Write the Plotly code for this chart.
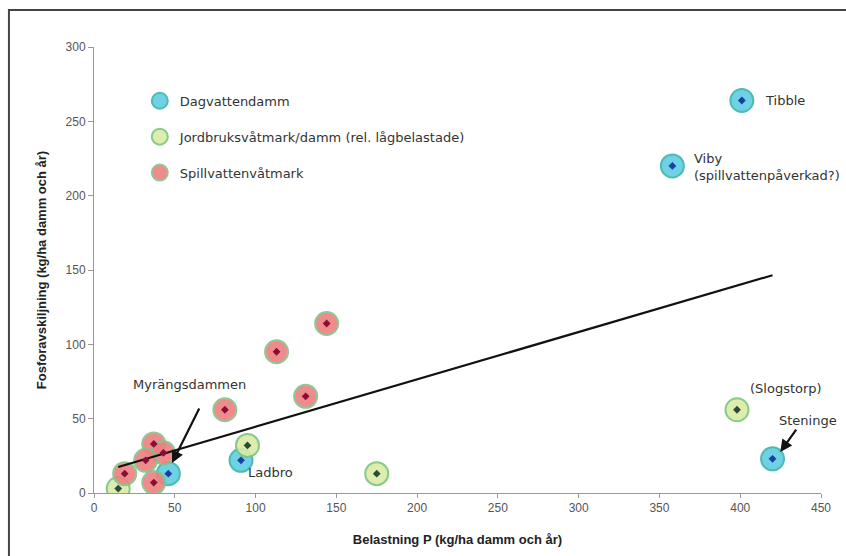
import plotly.graph_objects as go

# ---- data ----
dag_x = [401, 358, 420, 91, 46]
dag_y = [264, 220, 23, 22, 13]

jord_x = [398, 175, 95, 15]
jord_y = [56, 13, 32, 3]

spill_x = [144, 113, 131, 81, 37, 43, 32, 19, 37]
spill_y = [114, 95, 65, 56, 33, 27, 22, 13, 7]

trend_x = [15, 420]
trend_y = [17.5, 146.5]

series_names = ["Dagvattendamm", "Jordbruksvåtmark/damm (rel. lågbelastade)", "Spillvattenvåtmark"]

x_ticks = [0, 50, 100, 150, 200, 250, 300, 350, 400, 450]
y_ticks = [0, 50, 100, 150, 200, 250, 300]

fig = go.Figure()

styles = [
    (dag_x, dag_y, "#5fcde4", "#3cb5a8", "#1b3f9c"),
    (jord_x, jord_y, "#d9eca6", "#7cc67c", "#2e4a36"),
    (spill_x, spill_y, "#ef7f80", "#86c08c", "#8a0d35"),
]
for name, (xs, ys, fill, border, dot) in zip(series_names, styles):
    fig.add_trace(go.Scatter(
        x=xs, y=ys, mode="markers", name=name, legendgroup=name,
        marker=dict(size=23, color=fill, line=dict(color=border, width=2), opacity=0.9),
    ))

# trend line
fig.add_trace(go.Scatter(x=trend_x, y=trend_y, mode="lines", showlegend=False,
                         line=dict(color="#111111", width=2.2)))

for name, (xs, ys, fill, border, dot) in zip(series_names, styles):
    fig.add_trace(go.Scatter(
        x=xs, y=ys, mode="markers", showlegend=False, legendgroup=name,
        marker=dict(size=6, symbol="diamond", color=dot),
    ))

afont = dict(family="DejaVu Sans", size=13, color="#333333")
labels = [
    ("Tibble", 414, 264, "left"),
    ("Viby<br>(spillvattenpåverkad?)", 370, 219, "left"),
    ("(Slogstorp)", 405, 70, "left"),
    ("Steninge", 442, 49, "center"),
    ("Ladbro", 109, 14, "center"),
    ("Myrängsdammen", 59, 73, "center"),
]
for txt, x, y, al in labels:
    fig.add_annotation(x=x, y=y, text=txt, showarrow=False, font=afont,
                       xanchor=al, align="left", yanchor="middle")

arrows = [
    (48.3, 20.2, 65.6, 57.8),
    (424.8, 27.6, 435.3, 43.7),
]
for hx, hy, tx, ty in arrows:
    fig.add_annotation(x=hx, y=hy, ax=tx, ay=ty, xref="x", yref="y", axref="x", ayref="y",
                       text="", showarrow=True, arrowhead=2, arrowsize=1.1, arrowwidth=2.2,
                       arrowcolor="#111111")

# outer frame
fig.add_shape(type="rect", xref="paper", yref="paper",
              x0=-0.117, y0=-0.3, x1=1.2, y1=1.083,
              line=dict(color="#444444", width=2))

fig.update_layout(
    width=846, height=556,
    margin=dict(l=94, r=25, t=47, b=63),
    paper_bgcolor="white", plot_bgcolor="white",
    showlegend=True,
    legend=dict(x=0.063, y=0.913, xanchor="left", yanchor="top",
                font=dict(family="DejaVu Sans", size=13, color="#333333"),
                bgcolor="rgba(0,0,0,0)", tracegroupgap=16, itemsizing="trace"),
    xaxis=dict(range=[0, 450], tickvals=x_ticks, showgrid=False, zeroline=False,
               showline=True, linecolor="#999999", linewidth=1,
               ticks="outside", ticklen=4, tickcolor="#999999",
               tickfont=dict(family="Liberation Sans", size=12, color="#555555"),
               title=dict(text="<b>Belastning P (kg/ha damm och år)</b>",
                          font=dict(family="Liberation Sans", size=13, color="#222222"),
                          standoff=20)),
    yaxis=dict(range=[0, 300], tickvals=y_ticks, showgrid=False, zeroline=False,
               showline=True, linecolor="#999999", linewidth=1,
               ticks="outside", ticklen=5, tickcolor="#999999",
               tickfont=dict(family="Liberation Sans", size=12, color="#555555"),
               title=dict(text="<b>Fosforavskiljning (kg/ha damm och år)</b>",
                          font=dict(family="Liberation Sans", size=13, color="#222222"),
                          standoff=16)),
)

fig.write_html("out.html")
